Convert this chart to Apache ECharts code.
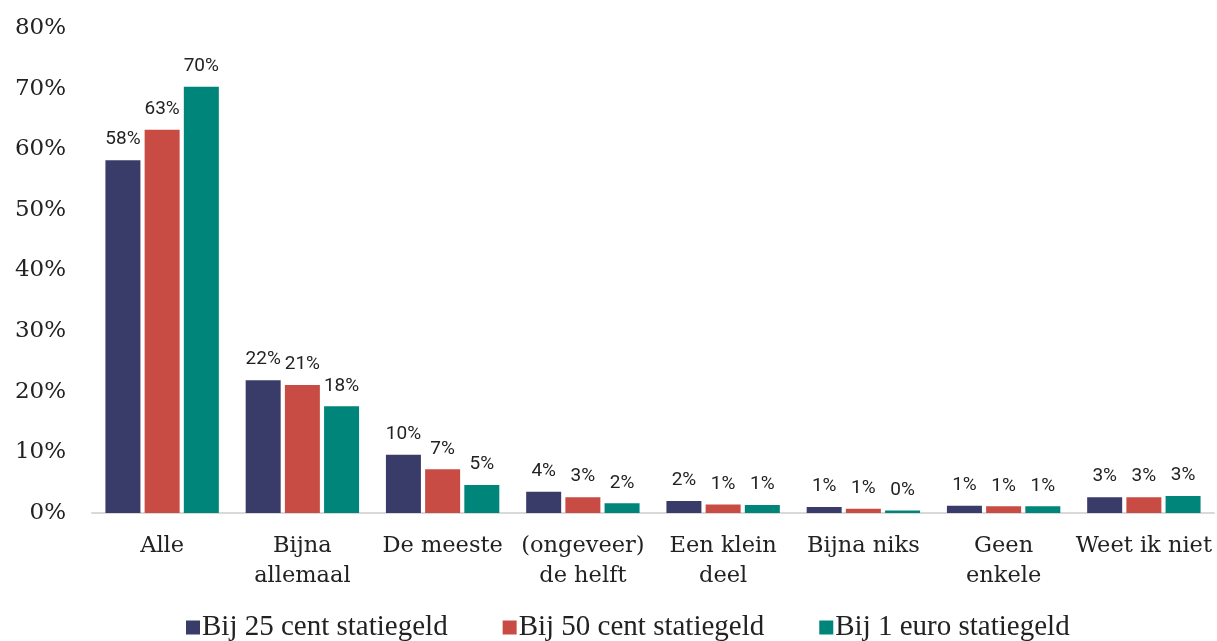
<!DOCTYPE html>
<html>
<head>
<meta charset="utf-8">
<script src="https://cdn.jsdelivr.net/npm/echarts@6/dist/echarts.min.js"></script>
<style>html,body{margin:0;padding:0;background:#fff;}#c{width:1217px;height:641px;}</style>
</head>
<body>
<div id="c"></div>
<script>
const categories = ['Alle', 'Bijna\nallemaal', 'De meeste', '(ongeveer)\nde helft', 'Een klein\ndeel', 'Bijna niks', 'Geen\nenkele', 'Weet ik niet'];
const seriesNames = ['Bij 25 cent statiegeld', 'Bij 50 cent statiegeld', 'Bij 1 euro statiegeld'];
const values25 = [58.2, 21.9, 9.6, 3.5, 2.0, 1.0, 1.2, 2.6];
const values50 = [63.2, 21.1, 7.2, 2.6, 1.4, 0.7, 1.1, 2.6];
const values1e = [70.3, 17.6, 4.6, 1.6, 1.3, 0.4, 1.1, 2.8];
const yTicks = [0, 10, 20, 30, 40, 50, 60, 70, 80];
const colors = ['#393B68', '#C94C44', '#00857A'];

const chart = echarts.init(document.getElementById('c'));
const mk = (name, data, color) => ({
  name, type: 'bar', data, barWidth: 35, barGap: '12%',
  itemStyle: { color },
  label: {
    show: true, position: 'top', distance: 11,
    fontFamily: 'Roboto', fontSize: 19, color: '#222',
    formatter: p => Math.round(p.value) + '%'
  }
});
chart.setOption({
  animation: false,
  color: colors,
  grid: { left: 92, right: 3, top: 28, bottom: 128 },
  legend: {
    top: 608, left: 181, itemWidth: 14, itemHeight: 14, itemGap: 55,
    icon: 'rect',
    textStyle: { fontFamily: 'Liberation Serif', fontSize: 29, color: '#222', padding: [0, 0, 0, -3] },
    data: seriesNames
  },
  xAxis: {
    type: 'category', data: categories,
    axisLine: { show: true, lineStyle: { color: '#d9d9d9', width: 2 } },
    axisTick: { show: false },
    axisLabel: { fontFamily: 'DejaVu Serif', fontSize: 22.5, color: '#222', lineHeight: 30, margin: 18, interval: 0 }
  },
  yAxis: {
    type: 'value', min: yTicks[0], max: yTicks[yTicks.length - 1], interval: 10,
    splitLine: { show: false },
    axisLine: { show: false },
    axisTick: { show: false },
    axisLabel: { fontFamily: 'DejaVu Serif', fontSize: 23, color: '#222', margin: 26, formatter: v => v + '%' }
  },
  series: [
    mk(seriesNames[0], values25, colors[0]),
    mk(seriesNames[1], values50, colors[1]),
    mk(seriesNames[2], values1e, colors[2])
  ]
});
</script>
</body>
</html>
